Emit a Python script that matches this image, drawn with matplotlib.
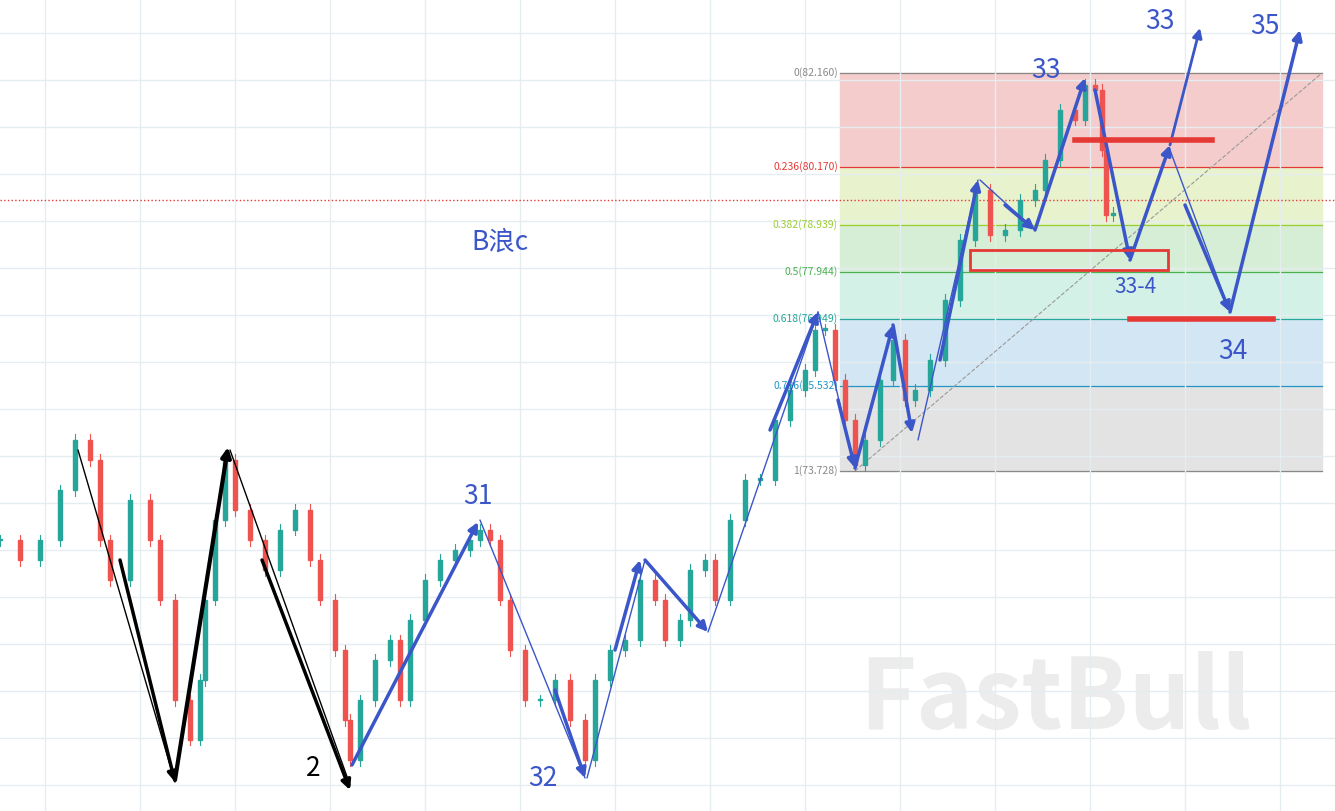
import matplotlib

matplotlib.use("Agg")
import matplotlib.pyplot as plt
from matplotlib.patches import Rectangle

plt.rcParams["font.family"] = ["Noto Sans CJK SC", "DejaVu Sans"]

# candle time positions and closes
bar_x = [0, 20, 40, 60, 75, 90, 100, 110, 130, 150, 160, 175, 190, 200, 205, 215,
         225, 235, 250, 265, 280, 295, 310, 320, 335, 345, 350, 360, 375, 390, 400,
         410, 425, 440, 455, 470, 480, 490, 500, 510, 525, 540, 555, 570, 585, 595,
         610, 625, 640, 655, 665, 680, 690, 705, 715, 730, 745, 760, 775, 790, 805,
         815, 825, 835, 845, 855, 865, 880, 893, 905, 915, 930, 945, 960, 975, 990,
         1005, 1020, 1035, 1045, 1060, 1075, 1085, 1095, 1102, 1106, 1113]
closes = [72.26, 71.84, 72.26, 73.32, 74.38, 73.96, 72.26, 71.42, 73.11, 72.26, 71.00,
          68.87, 68.03, 69.30, 71.00, 72.69, 73.96, 72.90, 72.26, 71.63, 72.48, 72.90,
          71.84, 71.00, 69.93, 68.45, 67.60, 68.87, 69.72, 70.14, 68.87, 70.57, 71.42,
          71.84, 72.05, 72.26, 72.48, 72.26, 71.00, 69.93, 68.87, 68.87, 69.30, 68.45,
          67.60, 69.30, 69.93, 70.14, 71.42, 71.00, 70.14, 70.57, 71.63, 71.84, 71.00,
          72.69, 73.54, 73.54, 74.81, 75.44, 75.87, 76.72, 76.72, 75.66, 74.81, 73.85,
          74.38, 75.66, 76.50, 75.23, 75.44, 76.08, 77.35, 78.62, 79.68, 78.73, 78.83,
          79.47, 79.68, 80.32, 81.38, 81.17, 81.91, 81.80, 80.53, 79.15, 79.20]

fib_ratios = [0, 0.236, 0.382, 0.5, 0.618, 0.786, 1]
fib_prices = [82.160, 80.170, 78.939, 77.944, 76.949, 75.532, 73.728]
fib_lines = ["#888888", "#e53935", "#9acd32", "#4caf50", "#26a69a", "#2196c8", "#888888"]
fib_fills = ["#f4cccc", "#e8f2cc", "#d6eed6", "#d3f1e6", "#d3e6f3", "#e3e3e3"]


def py(y):
    # pixel row of the reference -> price
    return 83.707 - 0.02119 * y


fig = plt.figure(figsize=(13.35, 8.11), dpi=100)
ax = fig.add_axes([0, 0, 1, 1])
ax.set_xlim(0, 1335)
ax.set_ylim(py(811), py(0))
ax.set_xticks(range(45, 1335, 95))
ax.set_yticks([py(y) for y in range(33, 811, 47)])
ax.grid(color="#e6edf0", lw=1)
ax.tick_params(length=0, labelbottom=False, labelleft=False)
for s in ax.spines.values():
    s.set_visible(False)

# fib zones
for i, r in enumerate(fib_ratios):
    if i < len(fib_fills):
        ax.add_patch(Rectangle((840, fib_prices[i + 1]), 482, fib_prices[i] - fib_prices[i + 1],
                               color=fib_fills[i], zorder=0))
    ax.plot([840, 1322], [fib_prices[i]] * 2, color=fib_lines[i], lw=0.9, zorder=1)
    ax.text(838, fib_prices[i], f"{r:g}({fib_prices[i]:.3f})", ha="right", va="center",
            fontsize=7.5, color=fib_lines[i])
ax.plot([855, 1322], [73.728, 82.160], color="#999999", ls="--", lw=0.8)
ax.axhline(py(200), color="#e53935", ls=":", lw=1)

# candles
opens = [closes[0]] + closes[:-1]
for x, o, c in zip(bar_x, opens, closes):
    col = "#26a69a" if c >= o else "#ef5350"
    ax.plot([x, x], [min(o, c) - 0.12, max(o, c) + 0.12], color=col, lw=0.8, zorder=2)
    ax.add_patch(Rectangle((x - 2, min(o, c)), 4, max(abs(c - o), 0.03), color=col, zorder=3))

blue = "#3a56c8"


def arrow(p0, p1, color=blue, lw=3, head=True):
    ax.annotate("", xy=(p1[0], py(p1[1])), xytext=(p0[0], py(p0[1])),
                arrowprops=dict(arrowstyle="-|>" if head else "-", color=color, lw=lw,
                                mutation_scale=14, shrinkA=0, shrinkB=0), zorder=5)


arrow((78, 450), (175, 782), "black", 1, False)
arrow((120, 560), (175, 782), "black", 2.5)
arrow((175, 780), (228, 447), "black", 3)
arrow((230, 450), (350, 785), "black", 1, False)
arrow((262, 560), (350, 790), "black", 2.5)
arrow((352, 765), (478, 522), blue, 2.5)
arrow((480, 520), (585, 778), blue, 1, False)
arrow((555, 690), (585, 778), blue, 2.5)
arrow((587, 778), (645, 560), blue, 1, False)
arrow((615, 650), (640, 560), blue, 2.5)
arrow((645, 560), (708, 632), blue, 2.5)
arrow((708, 632), (818, 312), blue, 1, False)
arrow((770, 430), (818, 312), blue, 2.5)
arrow((818, 312), (855, 468), blue, 1, False)
arrow((838, 400), (855, 468), blue, 2.5)
arrow((855, 468), (893, 325), blue, 2.5)
arrow((893, 325), (912, 433), blue, 2.5)
arrow((918, 440), (978, 180), blue, 1, False)
arrow((940, 360), (978, 180), blue, 2.5)
arrow((980, 180), (1035, 230), blue, 1, False)
arrow((1005, 205), (1035, 230), blue, 2.5)
arrow((1035, 230), (1085, 78), blue, 2.5)
arrow((1095, 90), (1130, 260), blue, 2.5)
arrow((1130, 260), (1170, 145), blue, 2.5)
arrow((1170, 145), (1200, 28), blue, 2)
arrow((1170, 150), (1230, 312), blue, 1, False)
arrow((1185, 205), (1230, 312), blue, 2.5)
arrow((1230, 312), (1300, 30), blue, 2.5)

# red marks
ax.plot([1075, 1212], [py(140)] * 2, color="#e53935", lw=4, zorder=6)
ax.plot([1130, 1273], [py(319)] * 2, color="#e53935", lw=4, zorder=6)
ax.add_patch(Rectangle((970, py(270)), 198, py(250) - py(270), fill=False,
                       ec="#e53935", lw=2, zorder=6))

# labels
for txt, x, y, c, fs in [("B浪c", 500, 242, blue, 19), ("31", 478, 497, blue, 19),
                         ("32", 543, 778, blue, 19), ("2", 313, 769, "black", 19),
                         ("33", 1046, 70, blue, 19), ("33", 1160, 22, blue, 19),
                         ("35", 1265, 27, blue, 19), ("33-4", 1135, 287, blue, 15),
                         ("34", 1233, 352, blue, 19)]:
    ax.text(x, py(y), txt, color=c, fontsize=fs, ha="center", va="center", zorder=7)
ax.text(1055, py(700), "FastBull", color="#e0e0e0", alpha=0.6, fontsize=70,
        fontweight="bold", ha="center", va="center", zorder=1)

fig.savefig("out.png", dpi=100)
